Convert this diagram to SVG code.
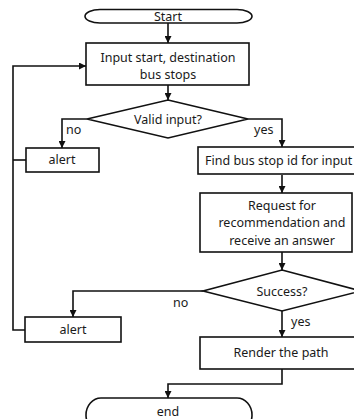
<svg xmlns="http://www.w3.org/2000/svg" width="354" height="419" viewBox="0 0 354 419">
<defs>
<marker id="ah" viewBox="0 0 8 8" refX="8" refY="4" markerWidth="7" markerHeight="7" markerUnits="userSpaceOnUse" orient="auto">
<path d="M0,0 L8,4 L0,8 z" fill="#111"/>
</marker>
<style>
.s{fill:#fff;stroke:#111;stroke-width:1.6}
.c{fill:none;stroke:#111;stroke-width:1.6;marker-end:url(#ah)}
.l{fill:none;stroke:#111;stroke-width:1.6}
text{font-family:"Noto Sans","Open Sans","DejaVu Sans",sans-serif;font-size:12.5px;fill:#1a1a1a}
.m{text-anchor:middle}
</style>
</defs>
<g id="connectors">
<path class="c" d="M168,23 V43"/>
<path class="c" d="M168,85 V100"/>
<path class="c" d="M87,119 H62 V148"/>
<path class="c" d="M248,119 H282 V147"/>
<path class="c" d="M282,175 V193"/>
<path class="c" d="M282,252 V270"/>
<path class="c" d="M203,291 H73 V317"/>
<path class="c" d="M282,311 V337"/>
<path class="c" d="M282,369 V384 H168 V398"/>
<path class="c" d="M25,330 H13 V66 H86"/>
<path class="l" d="M26,160 H13"/>
</g>
<g id="start">
<path class="s" d="M100,9.5 H237 A15,6.75 0 0 1 237,23 H100 A15,6.75 0 0 1 100,9.5 Z"/>
<text class="m" x="168" y="21">Start</text>
</g>
<g id="input">
<rect class="s" x="86" y="43" width="163" height="42"/>
<text class="m" x="168" y="62">Input start, destination</text>
<text class="m" x="168" y="79">bus stops</text>
</g>
<g id="valid">
<path class="s" d="M168,100 L248,119 L168,138 L87,119 Z"/>
<text class="m" x="168" y="124">Valid input?</text>
<text x="66" y="134">no</text>
<text x="254" y="134">yes</text>
</g>
<g id="alert1">
<rect class="s" x="26" y="148" width="73" height="24"/>
<text class="m" x="62" y="164">alert</text>
</g>
<g id="find">
<rect class="s" x="198" y="147" width="170" height="27"/>
<text x="205" y="165">Find bus stop id for input</text>
</g>
<g id="request">
<rect class="s" x="200" y="193" width="152" height="59"/>
<text class="m" x="282" y="210">Request for</text>
<text class="m" x="282" y="227">recommendation and</text>
<text class="m" x="282" y="245">receive an answer</text>
</g>
<g id="success">
<path class="s" d="M282,270 L361,291 L282,311 L203,291 Z"/>
<text class="m" x="282" y="296">Success?</text>
<text x="173" y="307">no</text>
<text x="291" y="326">yes</text>
</g>
<g id="alert2">
<rect class="s" x="25" y="317" width="96" height="25"/>
<text class="m" x="73" y="334">alert</text>
</g>
<g id="render">
<rect class="s" x="200" y="337" width="170" height="32"/>
<text class="m" x="281" y="357">Render the path</text>
</g>
<g id="end">
<path class="s" d="M101,398 H237 A15,17 0 0 1 237,432 H101 A15,17 0 0 1 101,398 Z"/>
<text class="m" x="168" y="416">end</text>
</g>
</svg>
